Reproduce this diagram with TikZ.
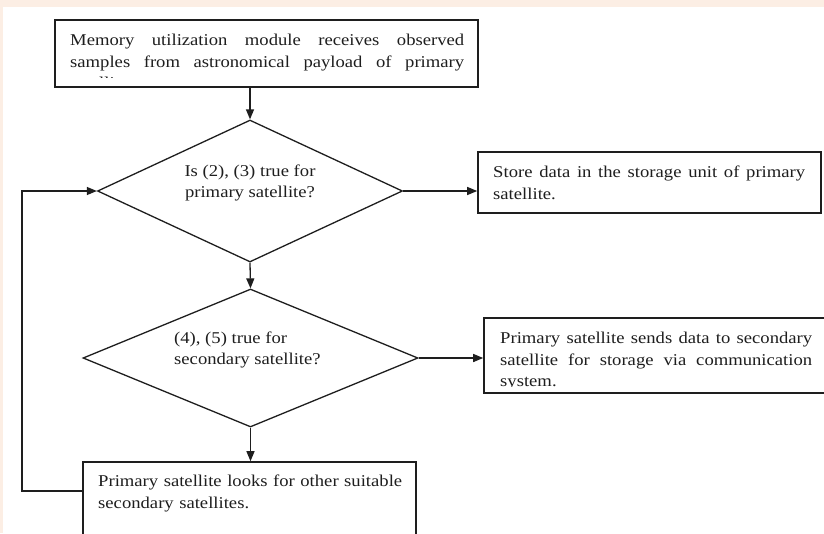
\documentclass[tikz,border=0pt]{standalone}
\usepackage{fontspec}
\setmainfont[FakeStretch=1.13]{Liberation Serif}
\usetikzlibrary{shapes.geometric,arrows.meta}
\definecolor{peach}{HTML}{FCEEE4}
\definecolor{ink}{HTML}{1E1E1E}
\newcommand{\diagfont}{\fontsize{16.5}{21.5}\selectfont\hyphenpenalty=10000\exhyphenpenalty=10000\tolerance=9999}
\tikzset{
  box/.style={draw=ink, line width=1.6pt, rectangle, inner sep=0pt, fill=white},
  dia/.style={draw=ink, line width=1.3pt, diamond, inner sep=0pt},
  txt/.style={inner sep=0pt, anchor=north west, text=ink, font=\diagfont, align=justify},
  ctxt/.style={inner sep=0pt, text=ink, font=\diagfont},
  arr/.style={draw=ink, line width=1.3pt, -{Triangle[length=10pt,width=8pt]}},
  ln/.style={draw=ink, line width=1.3pt}
}
\begin{document}
\begin{tikzpicture}[x=1pt,y=-1pt]
\useasboundingbox (0,0) rectangle (824,533);
\fill[peach] (0,0) rectangle (824,533);
\fill[white] (3,7) rectangle (824,533);
% shapes
\node[box, minimum width=423pt, minimum height=67pt] (b1) at (266.5,53.5) {};
\node[dia, minimum width=305pt, minimum height=142pt] (d1) at (250,191) {};
\node[box, minimum width=343pt, minimum height=61pt] (b2) at (649.5,182.5) {};
\node[dia, minimum width=335pt, minimum height=138pt] (d2) at (250.5,358) {};
\node[box, minimum width=344pt, minimum height=75pt] (b3) at (656,355.5) {};
\node[box, minimum width=333pt, minimum height=90pt] (b4) at (249.5,507) {};
\coordinate (loop) at (22,491);
% texts
\begin{scope}
\clip (56,21) rectangle (477,77);
\node[txt, text width=394pt] (t1) at (70,34) {Memory utilization module receives observed samples from astronomical payload of primary satellite.};
\end{scope}
\node[ctxt, align=center] (t2) at (250,183) {Is (2), (3) true for\\primary satellite?};
\node[txt, text width=312pt] (t3) at (493,166) {Store data in the storage unit of primary satellite.};
\node[ctxt, align=left, anchor=west] (t4) at (174,350) {(4), (5) true for\\secondary satellite?};
\begin{scope}
\clip (485,319) rectangle (824,386);
\node[txt, text width=312pt] (t5) at (500,332) {Primary satellite sends data to secondary satellite for storage via communication system.};
\end{scope}
\node[txt, text width=312pt, align=left] (t6) at (98,475) {Primary satellite looks for other suitable secondary satellites.};
% connectors
\draw[arr] (b1.south -| d1.north) -- (d1.north);
\draw[arr] (d1.east) -- (d1.east -| b2.west);
\draw[arr] (d1.south) -- (d2.north);
\draw[arr] (d2.east) -- (d2.east -| b3.west);
\draw[arr] (d2.south) -- (d2.south |- b4.north);
\draw[arr] (b4.west |- loop) -- (loop) |- (d1.west);
\end{tikzpicture}
\end{document}
